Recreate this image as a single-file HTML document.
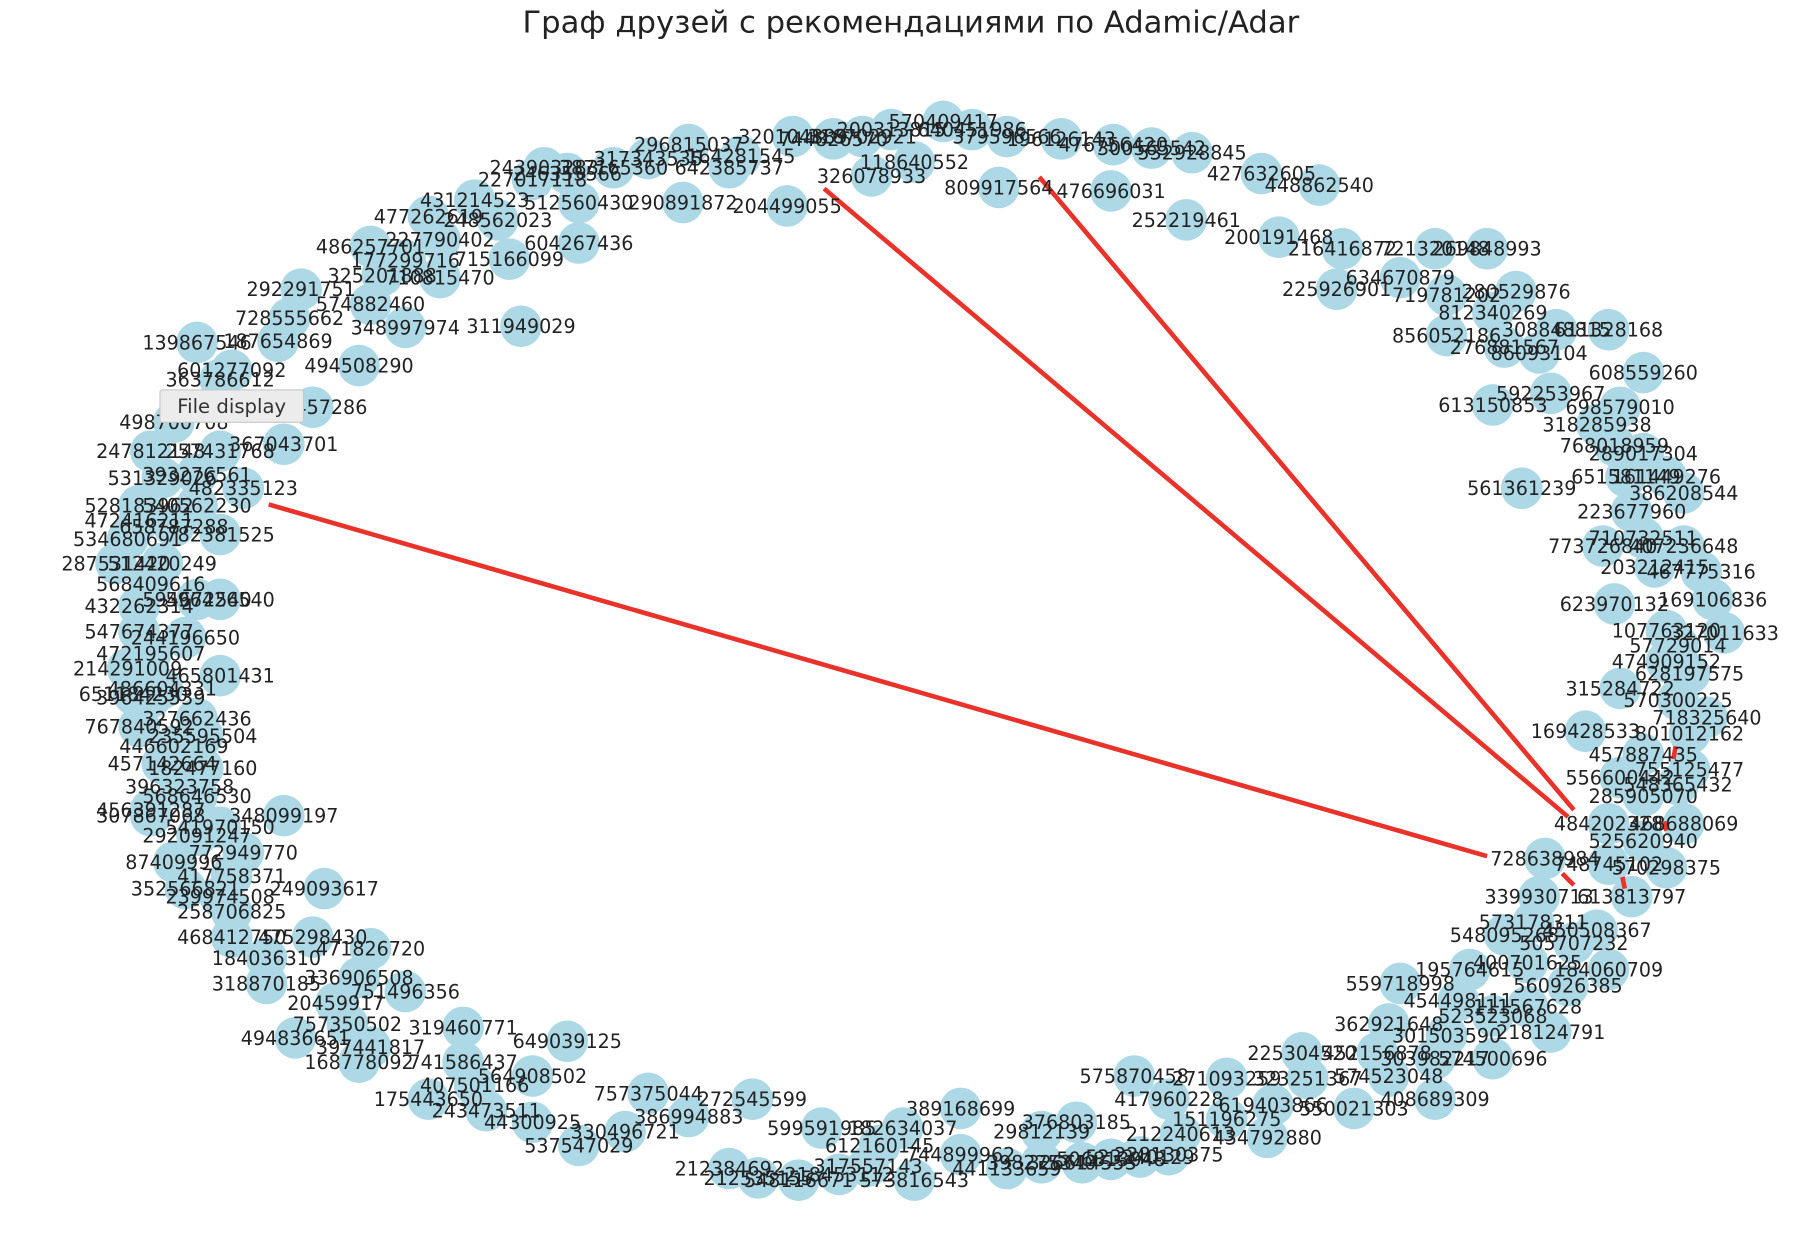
<!DOCTYPE html>
<html><head><meta charset="utf-8">
<style>
html,body{margin:0;padding:0;background:#fff;}
svg{display:block;}
text{font-family:"DejaVu Sans","Liberation Sans","Noto Sans CJK SC",sans-serif;}
</style></head>
<body>
<svg id="chart" width="1794" height="1238" viewBox="0 0 1550 1070" xmlns="http://www.w3.org/2000/svg">
<text x="787" y="28" font-size="26.5" text-anchor="middle" fill="#222">Граф друзей с рекомендациями по Adamic/Adar</text>
<g id="edges"></g>
<g id="nodes"></g>
<g id="labels"></g>
<g>
<rect x="138" y="337" width="124" height="28" fill="#ececec" stroke="#c8c8c8" rx="2"/>
<text x="200" y="357" font-size="17" text-anchor="middle" fill="#333">File display</text>
</g>
</svg>
<script>
const nodeLabels = ["296815037","320104889","570409417","379596566","196126143","476756420","300565542","532928845","427632605","448862540","326078933","809917564","476696031","252219461","200191468","216416872","721320148","269848993","225926901","634670879","719781202","280529876","812340269","308848815","856052186","276881567","86093104","611328168","608559260","613150853","592253967","698579010","318285938","768018959","289017304","651581149","161449276","386208544","561361239","223677960","710732511","773726840","407236648","203212415","467775316","623970132","169106836","107763120","327011633","57729014","474909152","628197575","315284722","570300225","169428533","801012162","457887435","755125477","556600442","548365432","285905070","484202328","468688069","525620940","728638984","748745102","570298375","339930713","613813797","573178311","548095268","450508367","505707232","400701625","195764615","184060709","559718998","560926385","454498111","111567628","523523068","362921648","301503590","218124791","225304520","452156878","303982217","574500696","271093259","323251367","574523048","408689309","575870458","417960228","619403866","550021303","151196275","212240613","434792880","228130375","389168699","29812139","376803185","182634037","599591985","612160145","744899962","398275340","506813048","548116671","573816543","212384692","386994883","757375044","272545599","330496721","537547029","44300925","243473511","175443650","564908502","407501166","649039125","741586437","168778092","397441817","494836651","757350502","319460771","20459917","751496356","318870185","336906508","471826720","184036310","468412750","475298430","258706825","239974508","352566821","249093617","417758371","87409996","772949770","292091247","307867068","348099197","541970150","568646530","396323758","182477160","457142664","446602169","767840592","235595504","327662436","396425539","486604331","465801431","214291009","472195607","244196650","547674377","432262314","596426540","594672540","568409616","512420249","287531420","534680691","782381525","658787288","528183962","540562230","482335123","531329026","393276561","247812148","367043701","257431768","498700708","328457286","363786612","601277092","494508290","139867546","187654869","728555662","348997974","311949029","574882460","292291751","710815470","325201888","177299716","715166099","486257701","227790402","604267436","477262619","248562023","431214523","512560430","290891872","204499055","227017118","246355566","387165360","243903283","317343535","642385737","744826570","316702921","200313815","164281545","118640552","640451986","212535155","218453112","317557143","441133659","326614553","523240129","472416211","651184230","456391287","718325640"];
const nodeX = [595,685,815,870,917,962,995,1030,1090,1140,753,863,960,1025,1105,1160,1240,1285,1155,1210,1250,1310,1290,1345,1250,1300,1330,1390,1420,1290,1340,1400,1380,1395,1420,1405,1440,1455,1315,1410,1420,1385,1455,1430,1470,1395,1480,1440,1490,1450,1440,1460,1400,1450,1370,1460,1420,1460,1400,1450,1420,1390,1455,1420,1335,1390,1440,1330,1410,1325,1300,1380,1360,1320,1270,1390,1210,1355,1260,1320,1290,1200,1250,1340,1125,1190,1240,1290,1060,1130,1200,1240,980,1010,1100,1170,1060,1020,1095,1010,830,900,930,780,710,760,830,900,960,690,790,630,595,560,650,540,500,460,420,370,460,410,490,400,310,320,255,300,400,290,350,230,310,320,230,200,270,200,190,160,280,200,150,210,170,130,245,190,170,155,175,140,150,120,175,170,130,140,190,110,130,160,120,120,190,170,130,140,100,110,190,150,120,170,210,140,170,130,245,190,150,270,190,200,310,170,240,250,350,450,320,260,380,330,350,440,320,380,500,370,430,410,500,590,680,460,490,530,470,560,630,720,745,770,640,790,840,655,725,750,870,935,985,120,115,130,1475,1480,1465];
const nodeY = [125,118,105,118,120,125,128,132,150,160,152,162,165,190,205,215,215,215,250,240,255,252,270,285,290,300,305,285,322,350,340,352,367,385,392,412,412,426,422,442,465,472,472,490,494,522,518,545,547,558,572,582,595,605,632,634,652,665,672,678,688,712,712,727,742,747,750,775,775,797,808,804,815,832,838,838,850,852,865,870,878,885,895,892,910,910,915,915,932,932,930,950,930,950,955,958,967,980,983,998,958,978,970,975,975,990,998,1005,1002,1020,1020,1010,965,945,950,978,990,970,960,950,930,938,900,918,918,905,897,885,888,867,857,850,845,820,828,810,810,788,775,768,768,757,745,737,722,705,705,715,688,680,664,660,645,628,636,621,603,595,584,578,565,551,546,524,518,518,505,487,487,466,462,455,437,437,422,413,410,390,384,390,365,352,328,320,316,296,295,275,283,282,263,250,240,238,225,224,213,207,210,187,190,173,175,175,178,155,150,145,145,137,145,120,118,112,135,140,112,1018,1015,1008,1010,1005,1000,450,600,700,620,700,540];
const edgeFrom = [[232,436],[712,163],[898,153],[1350,755],[1402,758],[1448,645],[1438,710]];
const edgeTo = [[1285,740],[1355,706],[1360,700],[1360,765],[1404,768],[1446,656],[1440,718]];

const NS="http://www.w3.org/2000/svg";
const gE=document.getElementById('edges'),gN=document.getElementById('nodes'),gL=document.getElementById('labels');
for(let i=0;i<nodeLabels.length;i++){
  const c=document.createElementNS(NS,'circle');
  c.setAttribute('cx',nodeX[i]);c.setAttribute('cy',nodeY[i]);c.setAttribute('r',18);
  c.setAttribute('fill','#add8e6');
  
  
  gN.appendChild(c);
  const t=document.createElementNS(NS,'text');
  t.setAttribute('x',nodeX[i]);t.setAttribute('y',nodeY[i]+6);
  t.setAttribute('font-size','16.5');t.setAttribute('text-anchor','middle');t.setAttribute('fill','#222');
  t.textContent=nodeLabels[i];
  
  
  gL.appendChild(t);
}
for(let i=0;i<edgeFrom.length;i++){
  const l=document.createElementNS(NS,'line');
  l.setAttribute('x1',edgeFrom[i][0]);l.setAttribute('y1',edgeFrom[i][1]);
  l.setAttribute('x2',edgeTo[i][0]);l.setAttribute('y2',edgeTo[i][1]);
  l.setAttribute('stroke','#e8322a');l.setAttribute('stroke-width','4');
  
  
  gE.appendChild(l);
}
gN.parentNode.insertBefore(gE,gL);
</script>
</body></html>
